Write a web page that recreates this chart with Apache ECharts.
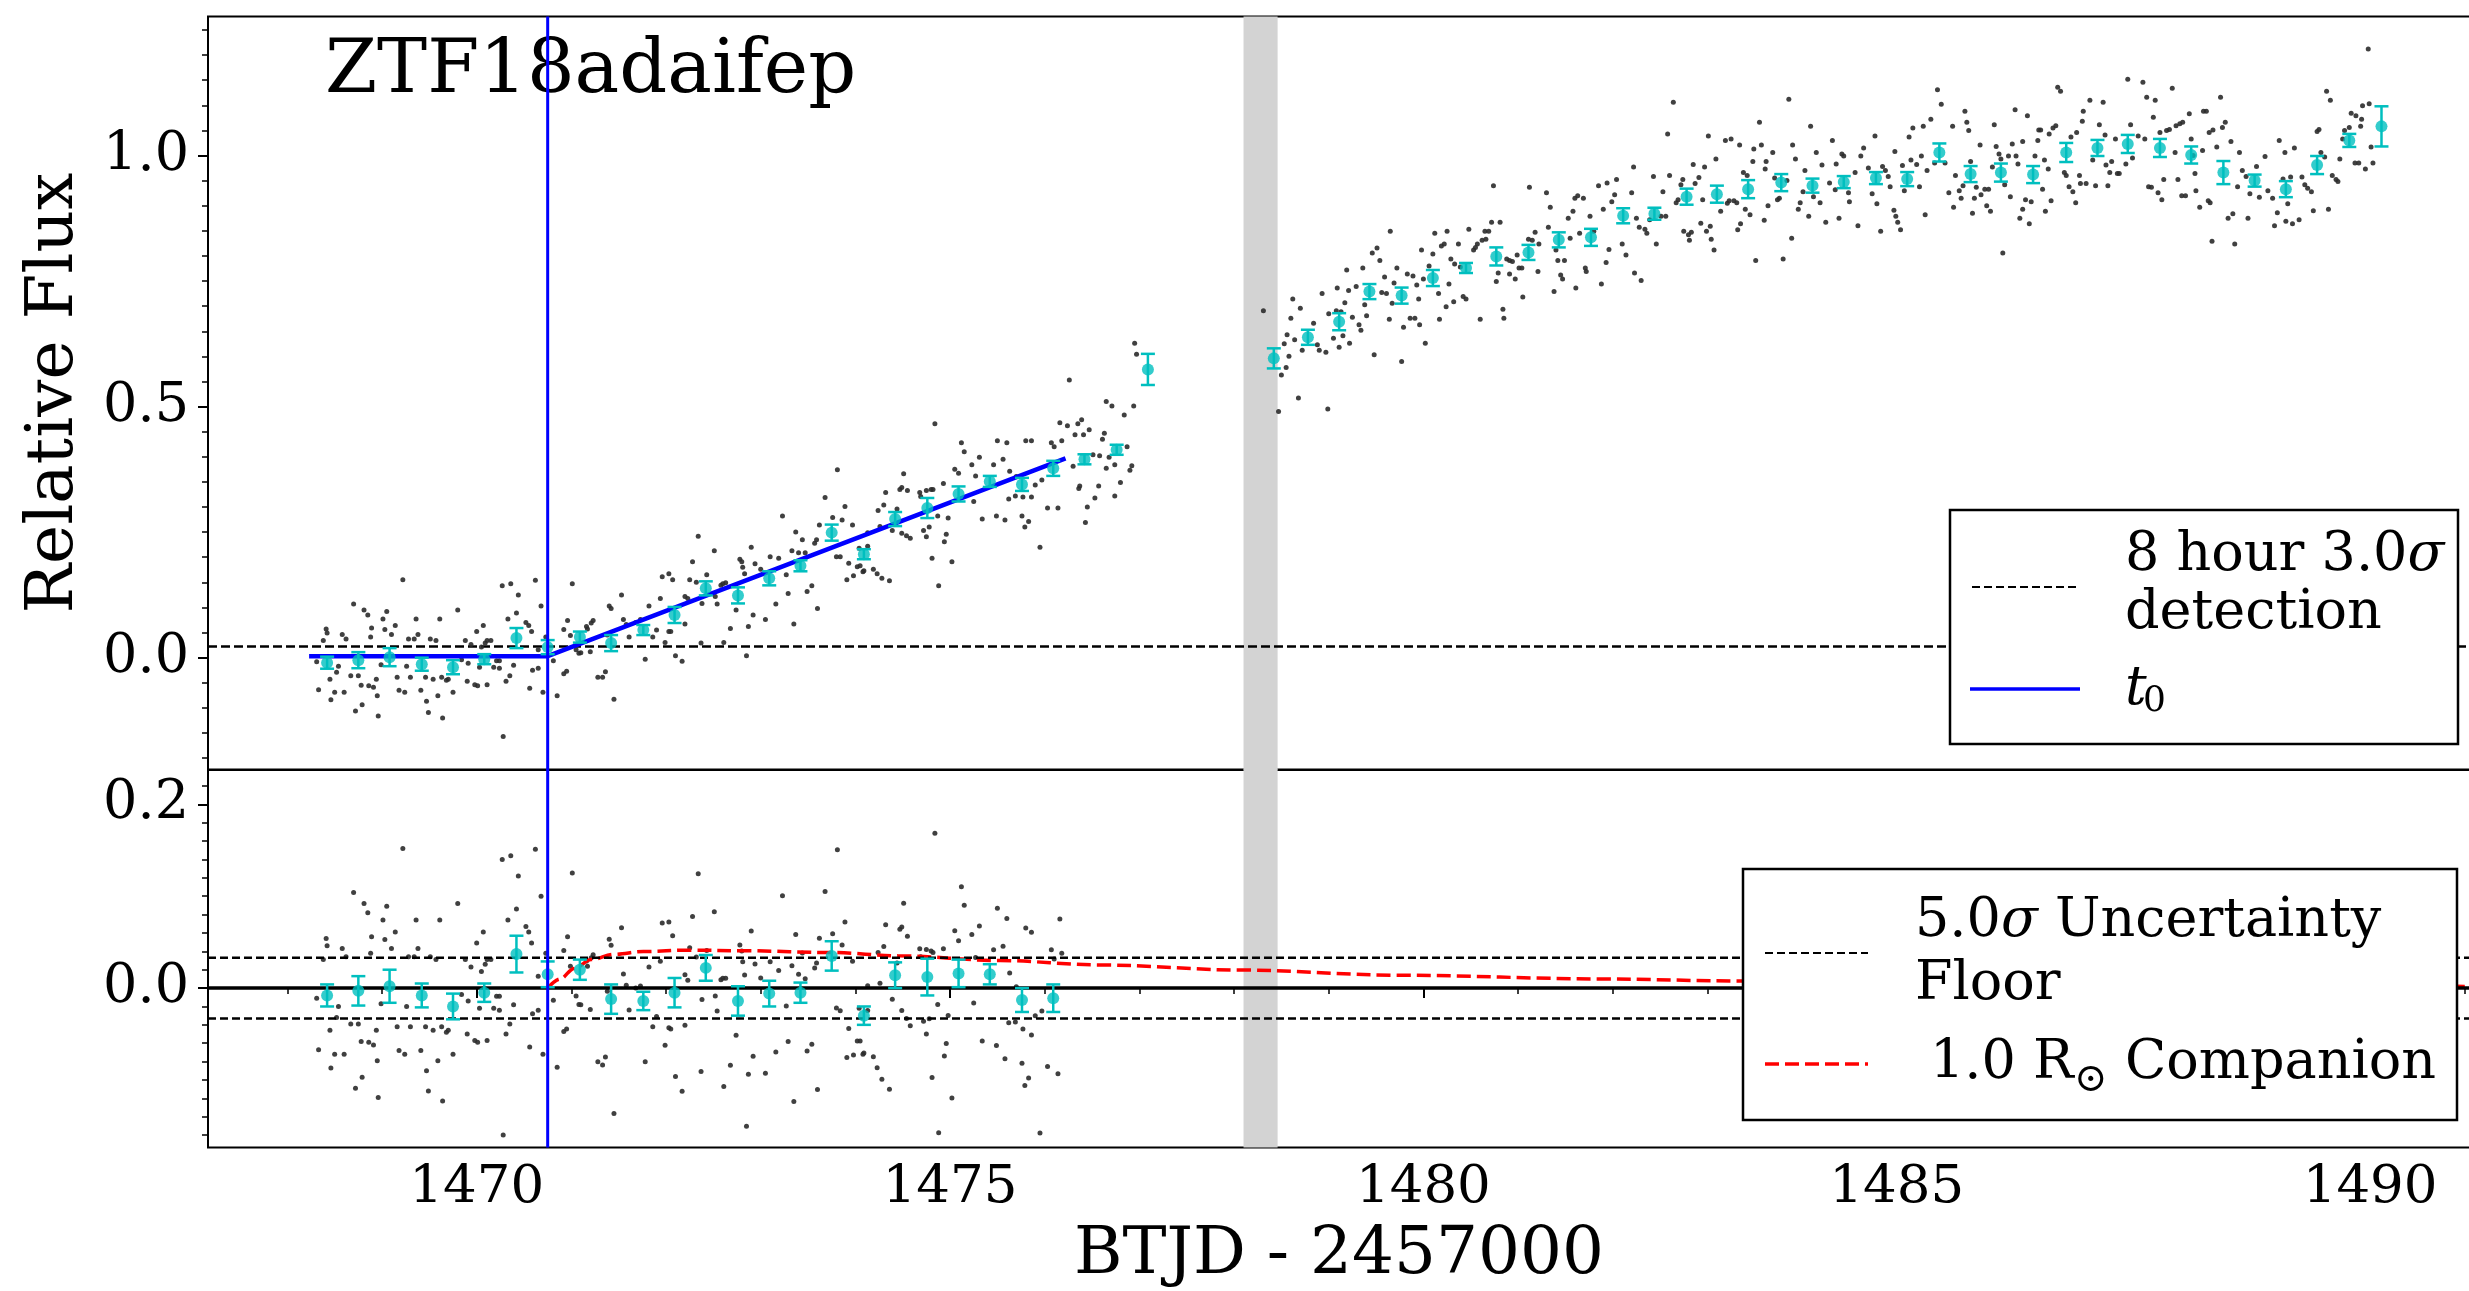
<!DOCTYPE html>
<html>
<head>
<meta charset="utf-8">
<script src="https://cdn.jsdelivr.net/npm/echarts@6/dist/echarts.min.js"></script>
<style>html,body{margin:0;padding:0;background:#fff}#c{width:2469px;height:1291px}</style>
</head>
<body>
<div id="c"></div>
<script>
// ---------------- data ----------------
const objectName = 'ZTF18adaifep';
const t0 = 1470.75;                       // BTJD - 2457000
const gapSpan = [1478.10, 1478.46];       // shaded data gap
const detectionLevel = 0.022;             // 8 hour 3.0 sigma detection
const floorLevel = 0.033;                 // 5.0 sigma uncertainty floor
const xRange = [1467.162, 1491.055];
const yTopRange = [-0.2237, 1.277];
const yBotRange = [-0.1736, 0.2379];

const xMajorTicks = [1470, 1475, 1480, 1485, 1490];
const xMinorTicks = [1468, 1469, 1471, 1472, 1473, 1474, 1476, 1477, 1478, 1479, 1481, 1482, 1483, 1484, 1486, 1487, 1488, 1489, 1491];
const yTopMajorTicks = [0, 0.5, 1.0];
const yTopMinorTicks = [-0.2, -0.15, -0.1, -0.05, 0.05, 0.1, 0.15, 0.2, 0.25, 0.3, 0.35, 0.4, 0.45, 0.55, 0.6, 0.65, 0.7, 0.75, 0.8, 0.85, 0.9, 0.95, 1.05, 1.1, 1.15, 1.2, 1.25];
const yBotMajorTicks = [0, 0.2];
const yBotMinorTicks = [-0.16, -0.14, -0.12, -0.1, -0.08, -0.06, -0.04, -0.02, 0.02, 0.04, 0.06, 0.08, 0.1, 0.12, 0.14, 0.16, 0.18, 0.22];

// fit (flat then linear rise from t0)
const fitTime = [1468.23, 1470.75, 1476.22];
const fitFlux = [0.003, 0.003, 0.397];

// 8-hour binned light curve
const binTime = [1468.42, 1468.75, 1469.08, 1469.42, 1469.75, 1470.08, 1470.42, 1470.75, 1471.09, 1471.42, 1471.76, 1472.09, 1472.42, 1472.76, 1473.09, 1473.42, 1473.75, 1474.09, 1474.42, 1474.76, 1475.09, 1475.42, 1475.76, 1476.09, 1476.42, 1476.76, 1477.09,
  1478.42, 1478.78, 1479.11, 1479.43, 1479.77, 1480.10, 1480.45, 1480.77, 1481.11, 1481.43, 1481.77, 1482.11, 1482.44, 1482.78, 1483.10, 1483.43, 1483.78, 1484.11, 1484.44, 1484.78, 1485.11, 1485.45, 1485.78, 1486.10, 1486.44, 1486.79, 1487.12, 1487.44, 1487.78, 1488.11, 1488.45, 1488.78, 1489.11, 1489.44, 1489.78, 1490.12];
const binFlux = [-0.010, -0.005, 0.001, -0.013, -0.019, -0.003, 0.039, 0.021, 0.041, 0.029, 0.055, 0.085, 0.138, 0.124, 0.158, 0.183, 0.249, 0.206, 0.276, 0.298, 0.326, 0.351, 0.345, 0.377, 0.395, 0.414, 0.574,
  0.596, 0.638, 0.669, 0.729, 0.721, 0.756, 0.776, 0.799, 0.807, 0.832, 0.837, 0.880, 0.884, 0.918, 0.923, 0.933, 0.946, 0.940, 0.947, 0.955, 0.953, 1.006, 0.963, 0.966, 0.962, 1.006, 1.015, 1.023, 1.015, 1.001, 0.966, 0.950, 0.933, 0.981, 1.030, 1.058];
const binErr = [0.012, 0.016, 0.018, 0.013, 0.014, 0.010, 0.020, 0.014, 0.011, 0.016, 0.010, 0.016, 0.014, 0.016, 0.014, 0.011, 0.016, 0.010, 0.014, 0.020, 0.015, 0.011, 0.013, 0.015, 0.010, 0.010, 0.031,
  0.020, 0.015, 0.017, 0.015, 0.016, 0.016, 0.010, 0.018, 0.015, 0.015, 0.017, 0.015, 0.012, 0.016, 0.017, 0.018, 0.017, 0.014, 0.012, 0.012, 0.014, 0.018, 0.016, 0.018, 0.017, 0.019, 0.016, 0.018, 0.018, 0.017, 0.023, 0.012, 0.016, 0.018, 0.013, 0.040];

// binned residuals (lower panel)
const resBinTime = [1468.42, 1468.75, 1469.08, 1469.42, 1469.75, 1470.08, 1470.42, 1470.75, 1471.09, 1471.42, 1471.76, 1472.09, 1472.42, 1472.76, 1473.09, 1473.42, 1473.75, 1474.09, 1474.42, 1474.76, 1475.09, 1475.42, 1475.76, 1476.09];
const resBinFlux = [-0.008, -0.003, 0.002, -0.008, -0.020, -0.005, 0.037, 0.015, 0.020, -0.012, -0.014, -0.005, 0.022, -0.014, -0.006, -0.005, 0.035, -0.030, 0.014, 0.012, 0.016, 0.015, -0.013, -0.011];
const resBinErr = [0.012, 0.016, 0.018, 0.013, 0.014, 0.010, 0.020, 0.014, 0.011, 0.016, 0.010, 0.016, 0.014, 0.016, 0.014, 0.011, 0.016, 0.010, 0.014, 0.020, 0.015, 0.011, 0.013, 0.015];

// 1.0 Rsun companion model (lower panel)
const companionTime = [1470.75, 1470.88, 1471.03, 1471.21, 1471.45, 1471.76, 1472.24, 1472.85, 1473.76, 1474.45, 1475.53, 1476.58, 1478.09, 1479.75, 1481.86, 1483.37, 1485.5, 1488.0, 1491.0];
const companionFlux = [0.0, 0.0099, 0.0214, 0.031, 0.0368, 0.0398, 0.0413, 0.0406, 0.0387, 0.0352, 0.0300, 0.0252, 0.0196, 0.0140, 0.0100, 0.0077, 0.0055, 0.0035, 0.0018];

// unbinned flux points, before the gap  [time, flux]
const rawBeforeGap = [
[1469.22,0.155],[1468.70,0.107],[1468.81,0.095],[1468.85,0.085],[1469.05,0.092],[1469.01,0.077],[1468.89,0.059],[1469.14,0.064],[1469.03,0.056],[1468.41,0.057],[1468.42,0.049],[1468.38,0.034],[1468.58,0.046],[1468.62,0.037],[1468.88,0.041],[1469.10,0.046],[1469.28,0.037],[1469.34,0.037],[1469.38,0.046],[1469.36,0.077],[1469.61,0.077],[1469.80,0.095],[1469.51,0.037],[1469.57,0.034],[1469.88,0.034],[1469.94,0.026],[1470.00,0.052],[1470.07,0.064],[1470.11,0.034],[1470.15,0.034],[1470.09,0.029],[1470.05,0.021],[1470.27,0.143],[1470.36,0.147],[1470.62,0.154],[1470.44,0.125],[1470.42,0.089],[1470.33,0.077],[1470.52,0.070],[1470.55,0.064],[1470.58,0.052],[1470.68,0.103],[1470.65,0.016],[1470.73,0.041],[1471.01,0.147],[1470.96,0.074],[1470.92,0.056],[1470.99,0.044],[1471.16,0.062],[1471.05,0.016],[1471.08,0.009],
[1468.31,-0.008],[1468.54,-0.017],[1468.52,-0.029],[1468.45,-0.043],[1468.33,-0.064],[1468.50,-0.069],[1468.60,-0.069],[1468.46,-0.084],[1468.67,-0.036],[1468.75,-0.036],[1468.78,-0.055],[1468.91,-0.059],[1468.94,-0.043],[1468.95,-0.076],[1468.79,-0.094],[1468.72,-0.106],[1468.96,-0.116],[1468.99,-0.014],[1469.16,-0.039],[1469.26,-0.017],[1469.30,-0.039],[1469.18,-0.065],[1469.24,-0.069],[1469.46,-0.039],[1469.54,-0.043],[1469.41,-0.065],[1469.47,-0.087],[1469.49,-0.109],[1469.59,-0.076],[1469.64,-0.120],[1469.63,-0.039],[1469.68,-0.045],[1469.70,-0.043],[1469.75,-0.069],[1469.84,-0.004],[1469.91,-0.011],[1469.90,-0.047],[1469.98,-0.054],[1470.01,-0.056],[1470.11,-0.054],[1470.03,-0.019],[1470.18,-0.019],[1470.21,-0.006],[1470.24,-0.006],[1470.24,-0.021],[1470.35,-0.036],[1470.31,-0.047],[1470.39,-0.015],[1470.56,-0.061],[1470.65,-0.021],[1470.59,-0.025],[1470.70,-0.069],[1470.81,-0.006],[1470.85,-0.076],[1470.95,-0.027],[1470.92,-0.032],[1470.28,-0.157],[1468.86,-0.056],
[1473.81,0.374],[1473.68,0.319],[1473.89,0.301],[1473.76,0.279],[1473.86,0.274],[1473.97,0.264],[1473.62,0.264],[1473.23,0.282],[1473.37,0.250],[1473.44,0.235],[1473.59,0.235],[1473.57,0.228],[1472.90,0.220],[1472.51,0.213],[1472.34,0.242],[1472.28,0.191],[1472.03,0.167],[1471.96,0.161],[1472.07,0.155],[1472.25,0.155],[1472.32,0.150],[1472.43,0.165],[1472.78,0.196],[1472.80,0.191],[1472.81,0.180],[1472.83,0.167],[1472.94,0.187],[1473.00,0.176],[1473.10,0.201],[1473.19,0.198],[1473.33,0.213],[1473.40,0.209],[1473.47,0.209],[1473.27,0.165],[1472.60,0.147],[1472.63,0.149],[1472.58,0.144],[1472.52,0.122],[1472.74,0.095],[1472.92,0.085],[1473.05,0.076],[1473.16,0.107],[1473.29,0.128],[1473.49,0.132],[1473.54,0.143],[1473.60,0.098],[1473.35,0.067],[1473.80,0.201],[1473.84,0.201],[1473.93,0.188],[1473.98,0.163],[1473.91,0.155],[1474.02,0.181],[1474.08,0.171],[1474.13,0.222],[1471.53,0.125],[1471.40,0.103],[1471.42,0.098],[1471.82,0.103],[1471.94,0.118],[1471.55,0.076],[1471.58,0.066],[1471.68,0.070],[1471.73,0.076],[1471.90,0.055],[1471.86,0.041],[1471.61,0.041],[1472.03,0.052],[1472.05,0.052],[1472.20,0.122],[1472.23,0.118],[1472.20,0.067],[1472.38,0.108],[1472.54,0.107],[1472.68,0.058],[1472.87,0.062],[1471.23,0.074],[1471.21,0.069],[1471.17,0.057],[1471.20,0.012],[1471.28,-0.039],[1471.33,-0.039],[1471.36,-0.028],[1471.45,-0.083],[1471.78,-0.003],[1471.99,0.030],[1472.10,0.004],[1472.17,-0.007],[1472.37,0.029],[1472.61,0.030],[1472.85,0.004],[1471.38,0.045],[1471.10,0.010],
[1476.95,0.626],[1476.97,0.604],[1476.26,0.553],[1476.65,0.510],[1476.71,0.501],[1476.94,0.501],[1476.84,0.483],[1476.16,0.468],[1476.24,0.462],[1476.35,0.466],[1476.39,0.474],[1476.47,0.454],[1476.32,0.444],[1476.41,0.444],[1476.63,0.447],[1476.61,0.435],[1476.07,0.428],[1476.10,0.420],[1476.18,0.432],[1475.80,0.432],[1475.86,0.432],[1475.50,0.432],[1475.60,0.428],[1475.12,0.428],[1475.15,0.410],[1475.31,0.399],[1475.56,0.395],[1475.46,0.384],[1475.23,0.384],[1475.05,0.375],[1475.09,0.367],[1475.27,0.362],[1474.84,0.466],[1474.93,0.347],[1474.80,0.335],[1474.82,0.335],[1474.75,0.333],[1474.68,0.329],[1474.69,0.321],[1474.55,0.333],[1474.49,0.339],[1474.47,0.335],[1474.51,0.366],[1474.32,0.329],[1474.30,0.304],[1474.24,0.293],[1474.26,0.261],[1474.13,0.249],[1474.04,0.218],[1474.44,0.296],[1474.39,0.253],[1474.49,0.248],[1474.54,0.243],[1474.58,0.238],[1474.72,0.253],[1474.75,0.241],[1474.78,0.260],[1474.87,0.282],[1474.98,0.278],[1474.96,0.246],[1474.94,0.231],[1474.81,0.198],[1475.02,0.191],[1474.88,0.143],[1474.05,0.183],[1474.09,0.173],[1474.19,0.176],[1474.23,0.167],[1474.28,0.158],[1474.36,0.153],[1475.25,0.311],[1475.34,0.276],[1475.49,0.282],[1475.58,0.274],[1475.62,0.316],[1475.69,0.322],[1475.77,0.320],[1475.86,0.320],[1475.76,0.282],[1475.83,0.271],[1475.79,0.260],[1475.95,0.220],[1476.03,0.298],[1476.14,0.298],[1475.63,0.371],[1475.70,0.361],[1475.90,0.344],[1475.97,0.354],[1476.30,0.381],[1476.36,0.337],[1476.37,0.342],[1476.45,0.300],[1476.43,0.269],[1476.53,0.318],[1476.57,0.342],[1476.65,0.377],[1476.74,0.384],[1476.74,0.322],[1476.80,0.349],[1476.90,0.373],[1476.92,0.382],[1476.58,0.402],[1476.51,0.404],[1476.68,0.399],[1476.87,0.420]
];

// unbinned flux points, after the gap  [time, flux]
const rawAfterGap = [
[1478.31,0.691],[1478.47,0.490],[1478.50,0.563],[1478.55,0.578],[1478.58,0.600],[1478.56,0.643],[1478.53,0.625],[1478.60,0.676],[1478.62,0.714],[1478.70,0.696],[1478.64,0.633],[1478.72,0.612],[1478.68,0.517],[1478.84,0.666],[1478.88,0.623],[1478.90,0.612],[1478.93,0.725],[1478.97,0.608],[1478.99,0.495],[1479.00,0.685],[1479.05,0.636],[1479.08,0.691],[1479.09,0.736],[1479.11,0.618],[1479.13,0.689],[1479.15,0.641],[1479.17,0.707],[1479.19,0.772],[1479.21,0.731],[1479.22,0.626],[1479.25,0.678],[1479.29,0.739],[1479.32,0.663],[1479.34,0.652],[1479.36,0.776],[1479.38,0.703],[1479.40,0.681],[1479.46,0.806],[1479.51,0.816],[1479.54,0.791],[1479.48,0.603],[1479.56,0.727],[1479.59,0.758],[1479.61,0.725],[1479.64,0.674],[1479.65,0.849],[1479.67,0.706],[1479.69,0.746],[1479.72,0.776],[1479.77,0.590],[1479.79,0.658],[1479.83,0.764],[1479.86,0.676],[1479.89,0.760],[1479.91,0.676],[1479.93,0.742],[1479.95,0.714],[1479.96,0.663],[1479.98,0.812],[1480.00,0.754],[1480.02,0.626],[1480.06,0.780],[1480.10,0.804],[1480.12,0.845],[1480.16,0.725],[1480.17,0.674],[1480.19,0.820],[1480.22,0.824],[1480.24,0.699],[1480.25,0.849],[1480.27,0.744],[1480.29,0.794],[1480.32,0.709],[1480.33,0.784],[1480.37,0.824],[1480.39,0.778],[1480.42,0.719],[1480.45,0.714],[1480.48,0.853],[1480.53,0.812],[1480.55,0.817],[1480.57,0.824],[1480.60,0.674],[1480.62,0.831],[1480.65,0.849],[1480.66,0.833],[1480.69,0.849],[1480.72,0.867],[1480.74,0.940],[1480.79,0.766],[1480.77,0.749],[1480.81,0.867],[1480.84,0.694],[1480.85,0.676],[1480.88,0.794],[1480.91,0.791],[1480.91,0.764],[1480.94,0.789],[1480.97,0.754],[1480.99,0.802],[1481.01,0.776],[1481.04,0.776],[1481.05,0.718],[1481.11,0.833],[1481.12,0.937],[1481.15,0.831],[1481.18,0.847],[1481.21,0.769],[1481.22,0.824],[1481.30,0.926],[1481.32,0.857],[1481.34,0.897],[1481.38,0.729],[1481.40,0.812],[1481.42,0.791],[1481.45,0.762],[1481.47,0.754],[1481.49,0.791],[1481.53,0.875],[1481.55,0.835],[1481.58,0.889],[1481.60,0.915],[1481.63,0.920],[1481.61,0.736],[1481.65,0.845],[1481.69,0.915],[1481.71,0.776],[1481.72,0.769],[1481.76,0.879],[1481.80,0.849],[1481.85,0.940],[1481.88,0.744],[1481.90,0.893],[1481.93,0.787],[1481.94,0.945],[1481.96,0.813],[1481.99,0.908],[1482.02,0.922],[1482.04,0.952],[1482.10,0.824],[1482.14,0.802],[1482.20,0.926],[1482.22,0.977],[1482.23,0.766],[1482.25,0.875],[1482.28,0.857],[1482.30,0.751],[1482.34,0.853],[1482.36,0.845],[1482.43,0.958],[1482.46,0.824],
[1482.39,0.872],[1482.51,0.879],[1482.53,0.928],[1482.56,0.879],[1482.58,1.043],[1482.60,0.960],[1482.64,1.106],[1482.67,0.906],[1482.69,0.912],[1482.72,0.942],[1482.74,0.952],[1482.75,0.849],[1482.80,0.842],[1482.81,0.831],[1482.83,0.847],[1482.85,0.982],[1482.87,0.944],[1482.91,0.956],[1482.93,0.865],[1482.95,0.912],[1482.97,0.977],[1482.99,0.849],[1483.01,1.039],[1483.03,0.859],[1483.04,0.833],[1483.07,0.812],[1483.09,0.993],[1483.14,0.889],[1483.19,1.030],[1483.21,0.905],[1483.23,0.910],[1483.25,1.033],[1483.28,0.910],[1483.31,0.906],[1483.32,0.852],[1483.34,1.021],[1483.35,0.864],[1483.38,0.966],[1483.40,0.893],[1483.42,0.960],[1483.45,0.882],[1483.48,0.988],[1483.49,1.013],[1483.51,0.791],[1483.55,1.066],[1483.57,1.021],[1483.60,0.871],[1483.61,0.973],[1483.62,0.988],[1483.64,0.900],[1483.69,1.006],[1483.71,0.955],[1483.74,0.912],[1483.76,0.915],[1483.80,0.794],[1483.84,0.950],[1483.86,1.112],[1483.89,0.835],[1483.90,1.021],[1483.93,0.993],[1483.96,0.893],[1483.98,0.906],[1484.01,0.928],[1484.03,0.970],[1484.07,0.879],[1484.09,1.058],[1484.12,0.918],[1484.15,1.006],[1484.19,0.906],[1484.21,0.981],[1484.25,0.867],[1484.29,0.945],[1484.32,1.030],[1484.35,0.932],[1484.36,0.983],[1484.39,0.875],[1484.42,1.003],[1484.44,0.999],[1484.49,0.926],[1484.50,0.908],[1484.56,0.966],[1484.59,0.860],[1484.62,0.999],[1484.65,1.015],[1484.70,0.975],[1484.74,0.924],[1484.77,1.039],[1484.79,0.904],[1484.83,0.849],[1484.85,0.978],[1484.88,0.970],[1484.91,0.958],[1484.93,0.938],[1484.97,0.891],[1484.99,0.879],[1485.01,0.867],[1485.04,0.852],[1484.98,1.008],[1485.06,0.980],[1485.08,0.930],[1485.13,1.037],[1485.15,0.991],[1485.17,1.055],[1485.21,0.982],[1485.24,0.938],[1485.26,0.999],[1485.28,1.058],[1485.30,0.882],[1485.32,0.970],[1485.36,1.072],[1485.40,0.985],[1485.43,1.131],[1485.47,1.102],[1485.51,0.985],[1485.55,0.926],[1485.59,1.058],[1485.60,0.897],[1485.62,0.960],[1485.66,0.930],[1485.68,0.915],[1485.70,0.940],[1485.72,1.088],[1485.74,1.066],[1485.76,1.050],[1485.78,0.988],[1485.80,0.885],[1485.82,0.915],[1485.84,0.937],[1485.88,1.021],[1485.89,0.922],[1485.93,0.933],[1485.95,0.900],[1485.97,0.933],[1485.99,0.889],[1486.01,0.977],[1486.03,1.061],[1486.05,1.018],[1486.08,1.003],[1486.10,0.993],[1486.12,0.806],[1486.14,0.942],[1486.18,0.999],[1486.20,0.918],[1486.22,1.023],[1486.25,1.091],[1486.26,0.999],[1486.28,0.983],[1486.30,0.875],[1486.33,1.028],[1486.33,0.893],[1486.36,0.912],[1486.38,1.079],[1486.40,0.864],[1486.42,0.908],[1486.46,0.999],[1486.49,1.030],[1486.50,1.051],
[1486.52,1.051],[1486.54,0.933],[1486.56,0.991],[1486.57,0.889],[1486.60,0.973],[1486.61,1.043],[1486.63,0.910],[1486.65,1.055],[1486.68,1.059],[1486.70,1.136],[1486.73,1.128],[1486.77,0.966],[1486.79,0.960],[1486.82,0.938],[1486.84,1.037],[1486.86,0.928],[1486.89,0.906],[1486.90,1.046],[1486.93,0.960],[1486.94,0.944],[1486.96,1.068],[1486.97,1.088],[1487.00,0.944],[1487.04,1.110],[1487.07,0.991],[1487.10,0.940],[1487.14,1.061],[1487.18,1.106],[1487.20,1.041],[1487.21,0.981],[1487.23,0.940],[1487.25,0.966],[1487.27,0.988],[1487.31,1.033],[1487.33,0.964],[1487.35,0.964],[1487.42,0.983],[1487.44,1.152],[1487.47,1.061],[1487.49,0.995],[1487.55,1.039],[1487.60,1.146],[1487.62,1.033],[1487.64,1.116],[1487.66,0.938],[1487.69,0.937],[1487.71,1.076],[1487.73,1.110],[1487.76,0.926],[1487.78,1.046],[1487.80,0.912],[1487.82,0.952],[1487.85,1.050],[1487.88,1.052],[1487.91,1.134],[1487.94,1.006],[1487.95,1.059],[1487.97,0.952],[1487.99,1.063],[1488.02,1.066],[1488.01,0.920],[1488.05,0.920],[1488.09,1.083],[1488.11,1.033],[1488.13,1.000],[1488.15,0.964],[1488.16,0.930],[1488.20,0.897],[1488.23,1.010],[1488.24,1.088],[1488.27,1.088],[1488.29,0.910],[1488.31,0.906],[1488.30,1.046],[1488.34,1.051],[1488.33,0.829],[1488.38,1.017],[1488.42,1.116],[1488.44,1.056],[1488.47,1.066],[1488.50,0.875],[1488.53,1.028],[1488.55,0.884],[1488.57,0.824],[1488.60,0.938],[1488.62,1.006],[1488.65,0.970],[1488.69,0.958],[1488.71,0.875],[1488.73,0.924],[1488.80,0.978],[1488.83,0.917],[1488.89,0.998],[1488.92,0.930],[1488.97,0.915],[1488.99,0.860],[1489.02,0.886],[1489.04,1.030],[1489.08,0.953],[1489.10,1.006],[1489.11,0.869],[1489.13,0.904],[1489.16,0.957],[1489.18,0.864],[1489.20,1.015],[1489.25,0.872],[1489.28,0.957],[1489.31,0.942],[1489.34,0.935],[1489.38,0.928],[1489.40,0.890],[1489.44,1.048],[1489.46,1.052],[1489.48,1.006],[1489.52,0.997],[1489.54,1.128],[1489.56,0.893],[1489.58,1.110],[1489.60,0.960],[1489.64,0.952],[1489.66,0.948],[1489.68,0.993],[1489.71,1.033],[1489.73,1.050],[1489.78,1.056],[1489.80,1.084],[1489.84,0.985],[1489.85,1.079],[1489.88,0.985],[1489.90,1.058],[1489.91,1.072],[1489.92,1.099],[1489.95,0.973],[1489.98,1.212],[1489.99,1.103],[1490.01,1.017],[1490.03,0.985]
];

// ---------------- derived series ----------------
function fitModel(t) {            // evaluate the drawn fit (flat, then linear)
  if (t <= fitTime[1]) return fitFlux[0];
  return fitFlux[1] + (fitFlux[2] - fitFlux[1]) * (t - fitTime[1]) / (fitTime[2] - fitTime[1]);
}
const rawAll = rawBeforeGap.concat(rawAfterGap);
const residualPoints = rawBeforeGap.filter(p => p[0] <= fitTime[2]).map(p => [p[0], +(p[1] - fitModel(p[0])).toFixed(4)]);
const binPoints = binTime.map((t, i) => [t, binFlux[i]]);
const binErrData = binTime.map((t, i) => [t, binFlux[i] - binErr[i], binFlux[i] + binErr[i]]);
const resBinPoints = resBinTime.map((t, i) => [t, resBinFlux[i]]);
const resBinErrData = resBinTime.map((t, i) => [t, resBinFlux[i] - resBinErr[i], resBinFlux[i] + resBinErr[i]]);
const fitPoints = fitTime.map((t, i) => [t, fitFlux[i]]);
const companionPoints = companionTime.map((t, i) => [t, companionFlux[i]]);

// ---------------- styling ----------------
const FONT = 'DejaVu Serif';
const CYAN = '#00bfbf';
const chart = echarts.init(document.getElementById('c'), null, { renderer: 'canvas' });

function errRender(params, api) {
  const t = api.value(0), lo = api.value(1), hi = api.value(2);
  const a = api.coord([t, lo]), b = api.coord([t, hi]);
  const hw = 7, st = { stroke: CYAN, lineWidth: 2.5 };
  return { type: 'group', children: [
    { type: 'line', shape: { x1: a[0], y1: a[1], x2: b[0], y2: b[1] }, style: st },
    { type: 'line', shape: { x1: a[0] - hw, y1: a[1], x2: a[0] + hw, y2: a[1] }, style: st },
    { type: 'line', shape: { x1: b[0] - hw, y1: b[1], x2: b[0] + hw, y2: b[1] }, style: st }
  ]};
}
function bandRender(yr) {
  return function (params, api) {
    const a = api.coord([api.value(0), yr[1]]), b = api.coord([api.value(1), yr[0]]);
    return { type: 'rect', shape: { x: a[0], y: a[1], width: b[0] - a[0], height: b[1] - a[1] }, style: { fill: '#d3d3d3' } };
  };
}
function hLine(y, xi, yi, style, z) {
  return { type: 'line', xAxisIndex: xi, yAxisIndex: yi, data: [[xRange[0], y], [xRange[1], y]], symbol: 'none', silent: true, lineStyle: style, z: z, animation: false };
}
function majorX(gi, showLabel, name) {
  return { type: 'value', gridIndex: gi, min: xRange[0], max: xRange[1], position: 'bottom',
    axisLine: { show: false }, splitLine: { show: false },
    axisTick: { show: showLabel, customValues: xMajorTicks, length: 10, lineStyle: { color: '#000', width: 2 } },
    axisLabel: { show: showLabel, customValues: xMajorTicks, margin: 14, color: '#000', fontFamily: FONT, fontSize: 53, formatter: v => String(Math.round(v)) },
    name: name || '', nameLocation: 'middle', nameGap: 75, nameMoveOverlap: false,
    nameTextStyle: { color: '#000', fontFamily: FONT, fontSize: 66 } };
}
function minorX(gi, show) {
  return { type: 'value', gridIndex: gi, min: xRange[0], max: xRange[1], position: 'bottom',
    axisLine: { show: false }, splitLine: { show: false }, axisLabel: { show: false },
    axisTick: { show: show, customValues: xMinorTicks, length: 6, lineStyle: { color: '#000', width: 1.5 } } };
}
function majorY(gi, range, ticks, name) {
  return { type: 'value', gridIndex: gi, min: range[0], max: range[1], position: 'left',
    axisLine: { show: false }, splitLine: { show: false },
    axisTick: { customValues: ticks, length: 10, lineStyle: { color: '#000', width: 2 } },
    axisLabel: { customValues: ticks, margin: 19, color: '#000', fontFamily: FONT, fontSize: 54, formatter: v => v.toFixed(1) },
    name: name || '', nameLocation: 'middle', nameGap: 120, nameRotate: 90, nameMoveOverlap: false,
    nameTextStyle: { color: '#000', fontFamily: FONT, fontSize: 66 } };
}
function minorY(gi, range, ticks) {
  return { type: 'value', gridIndex: gi, min: range[0], max: range[1], position: 'left',
    axisLine: { show: false }, splitLine: { show: false }, axisLabel: { show: false },
    axisTick: { customValues: ticks, length: 6, lineStyle: { color: '#000', width: 1.5 } } };
}

const txt = (x, y, text, size, extra) => ({ type: 'text', x: x, y: y, z: 101,
  style: Object.assign({ text: text, fill: '#000', fontFamily: FONT, fontSize: size, align: 'left', verticalAlign: 'middle' }, extra || {}) });

const option = {
  backgroundColor: '#fff',
  animation: false,
  title: { text: objectName, left: 320, top: 30, z: 0,
    textStyle: { color: '#000', fontFamily: FONT, fontSize: 75, fontWeight: 'normal' } },
  grid: [
    { left: 208, top: 16.4, width: 2262, height: 753.6, show: true, borderColor: '#000', borderWidth: 2, backgroundColor: 'transparent', containLabel: false, outerBoundsMode: 'none' },
    { left: 208, top: 769.5, width: 2262, height: 378.1, show: true, borderColor: '#000', borderWidth: 2, backgroundColor: 'transparent', containLabel: false, outerBoundsMode: 'none' }
  ],
  xAxis: [ majorX(0, false), majorX(1, true, 'BTJD - 2457000'), minorX(0, false), minorX(1, true) ],
  yAxis: [ majorY(0, yTopRange, yTopMajorTicks, 'Relative Flux'), minorY(0, yTopRange, yTopMinorTicks),
           majorY(1, yBotRange, yBotMajorTicks), minorY(1, yBotRange, yBotMinorTicks) ],
  series: [
    // ---- top panel ----
    { type: 'custom', xAxisIndex: 0, yAxisIndex: 0, data: [gapSpan], renderItem: bandRender(yTopRange), silent: true, z: 1 },
    hLine(detectionLevel, 0, 0, { color: '#000', width: 2.5, type: [9, 4] }, 2),
    { type: 'scatter', xAxisIndex: 0, yAxisIndex: 0, data: rawAll, symbolSize: 5, itemStyle: { color: '#2b2b2b', opacity: 0.9 }, silent: true, z: 3 },
    { type: 'line', xAxisIndex: 0, yAxisIndex: 0, data: fitPoints, symbol: 'none', lineStyle: { color: '#0000ff', width: 4.5 }, silent: true, z: 4 },
    { type: 'custom', xAxisIndex: 0, yAxisIndex: 0, data: binErrData, renderItem: errRender, encode: { x: 0, y: [1, 2] }, silent: true, z: 5 },
    { type: 'scatter', xAxisIndex: 0, yAxisIndex: 0, data: binPoints, symbol: 'circle', symbolSize: 12, itemStyle: { color: CYAN }, silent: true, z: 6 },
    { type: 'line', xAxisIndex: 0, yAxisIndex: 0, data: [[t0, yTopRange[0]], [t0, yTopRange[1]]], symbol: 'none', lineStyle: { color: '#0000ff', width: 3 }, silent: true, z: 7 },
    // ---- bottom panel ----
    { type: 'custom', xAxisIndex: 1, yAxisIndex: 2, data: [gapSpan], renderItem: bandRender(yBotRange), silent: true, z: 1 },
    { type: 'scatter', xAxisIndex: 1, yAxisIndex: 2, data: residualPoints, symbolSize: 5, itemStyle: { color: '#2b2b2b', opacity: 0.9 }, silent: true, z: 3 },
    { type: 'line', xAxisIndex: 1, yAxisIndex: 2, data: companionPoints, symbol: 'none', smooth: 0.35, smoothMonotone: 'x', lineStyle: { color: '#ff0000', width: 3.5, type: [14, 6] }, silent: true, z: 4 },
    hLine(0, 1, 2, { color: '#000', width: 3.5 }, 5),
    hLine(floorLevel, 1, 2, { color: '#000', width: 2.5, type: [8, 4] }, 5),
    hLine(-floorLevel, 1, 2, { color: '#000', width: 2.5, type: [8, 4] }, 5),
    { type: 'custom', xAxisIndex: 1, yAxisIndex: 2, data: resBinErrData, renderItem: errRender, encode: { x: 0, y: [1, 2] }, silent: true, z: 6 },
    { type: 'scatter', xAxisIndex: 1, yAxisIndex: 2, data: resBinPoints, symbol: 'circle', symbolSize: 12, itemStyle: { color: CYAN }, silent: true, z: 7 },
    { type: 'line', xAxisIndex: 1, yAxisIndex: 2, data: [[t0, yBotRange[0]], [t0, yBotRange[1]]], symbol: 'none', lineStyle: { color: '#0000ff', width: 3 }, silent: true, z: 8 }
  ],
  graphic: [
    // upper legend
    { type: 'rect', z: 100, shape: { x: 1950, y: 510, width: 508, height: 234 }, style: { fill: '#fff', stroke: '#000', lineWidth: 2.5 } },
    { type: 'line', z: 101, shape: { x1: 1972, y1: 587, x2: 2077, y2: 587 }, style: { stroke: '#000', lineWidth: 2, lineDash: [8, 4] } },
    txt(2125, 556, '{n|8 hour 3.0}{i|σ}', 54, { rich: { n: { fontFamily: FONT, fontSize: 54, fill: '#000' }, i: { fontFamily: FONT, fontSize: 54, fontStyle: 'italic', fill: '#000' } } }),
    txt(2125, 614, 'detection', 54),
    { type: 'line', z: 101, shape: { x1: 1970, y1: 689, x2: 2080, y2: 689 }, style: { stroke: '#0000ff', lineWidth: 3.5 } },
    txt(2125, 690, 't', 54, { fontStyle: 'italic' }),
    txt(2143, 702, '0', 36),
    // lower legend
    { type: 'rect', z: 100, shape: { x: 1743, y: 869, width: 714, height: 251 }, style: { fill: '#fff', stroke: '#000', lineWidth: 2.5 } },
    { type: 'line', z: 101, shape: { x1: 1765, y1: 953, x2: 1868, y2: 953 }, style: { stroke: '#000', lineWidth: 2, lineDash: [8, 4] } },
    txt(1915, 922, '{n|5.0}{i|σ}{n| Uncertainty}', 54, { rich: { n: { fontFamily: FONT, fontSize: 54, fill: '#000' }, i: { fontFamily: FONT, fontSize: 54, fontStyle: 'italic', fill: '#000' } } }),
    txt(1915, 985, 'Floor', 54),
    { type: 'line', z: 101, shape: { x1: 1765, y1: 1064, x2: 1868, y2: 1064 }, style: { stroke: '#ff0000', lineWidth: 3.5, lineDash: [14, 6] } },
    txt(1930, 1064, '1.0 R', 54),
    txt(2074, 1081, '⊙', 40),
    txt(2125, 1064, 'Companion', 54)
  ]
};
chart.setOption(option);
</script>
</body>
</html>
